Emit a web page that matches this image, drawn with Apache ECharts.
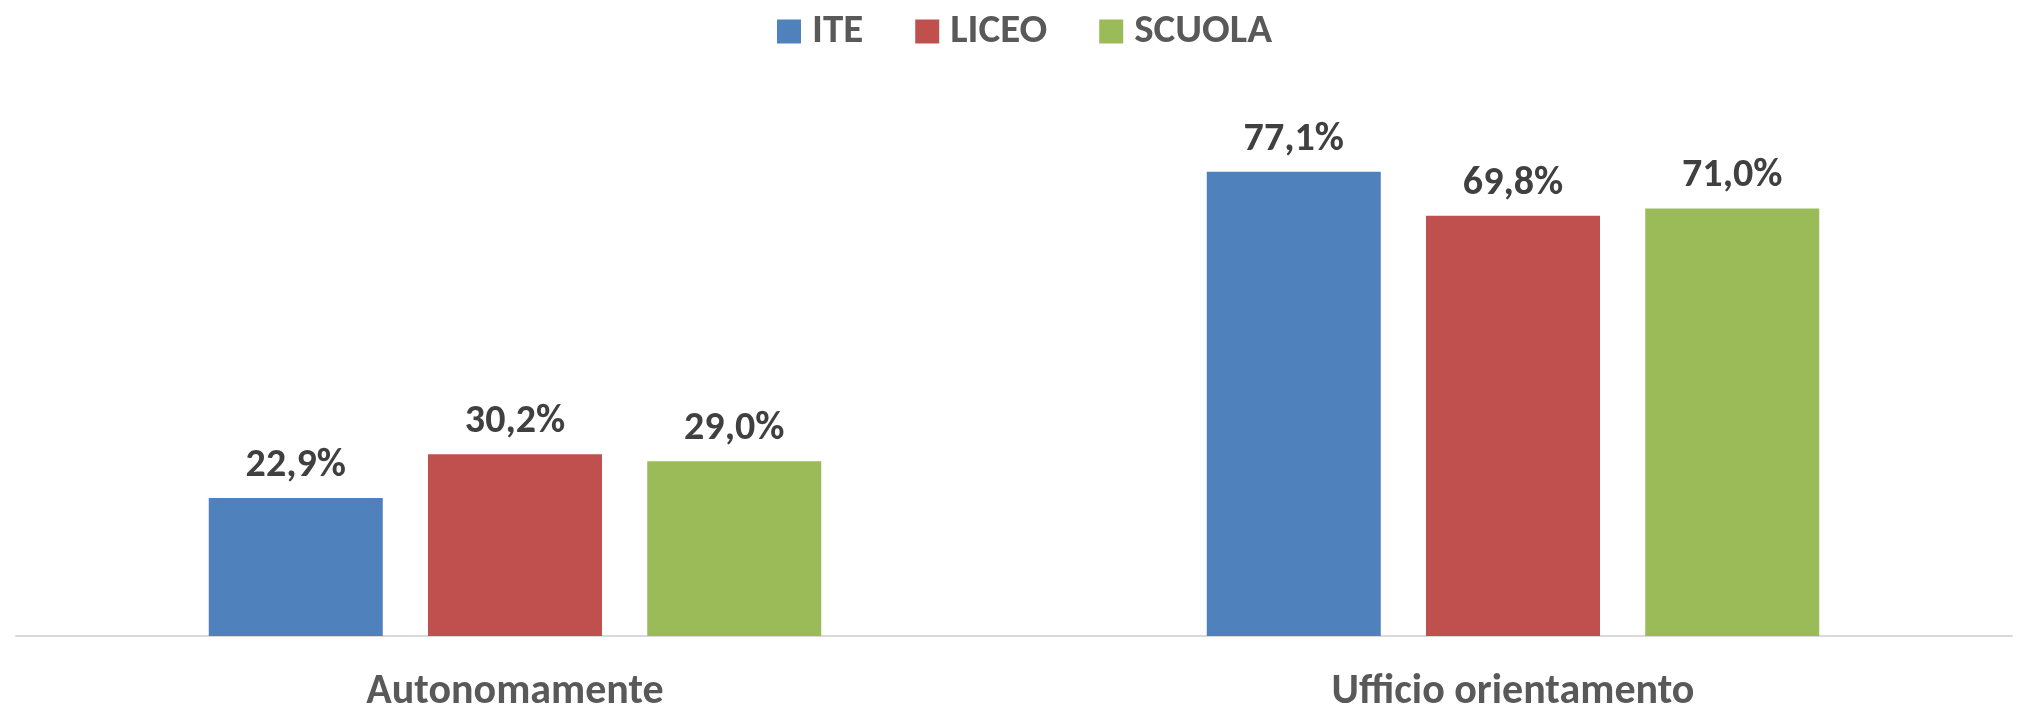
<!DOCTYPE html>
<html>
<head>
<meta charset="utf-8">
<script src="https://cdn.jsdelivr.net/npm/echarts@6/dist/echarts.min.js"></script>
<style>
html,body{margin:0;padding:0;background:#fff}
#divApp{width:2022px;height:709px}
</style>
</head>
<body>
<div id="divApp"></div>
<script>
var categories = ['Autonomamente', 'Ufficio orientamento']
var series_names = ['ITE', 'LICEO', 'SCUOLA']
var ite_v = [22.9, 77.1]
var liceo_v = [30.2, 69.8]
var scuola_v = [29.0, 71.0]
var colors = ['#4f81bd', '#c0504d', '#9bbb59']

var ff = 'Carlito, Lato, sans-serif'
var fmt = p => p.value.toFixed(1).replace('.', ',') + '%'

var mk = (name, data, i) => ({
  name: name,
  type: 'bar',
  data: data,
  barWidth: 174,
  barGap: '26%',
  itemStyle: {color: colors[i]},
  label: {
    show: true, position: 'top', distance: 12,
    formatter: fmt,
    color: '#404040', fontFamily: ff, fontWeight: 'bold', fontSize: 40
  }
})

var chart = echarts.init(document.getElementById('divApp'))
chart.setOption({
  animation: false,
  legend: {
    top: 6, left: 772,
    itemWidth: 24, itemHeight: 24, itemGap: 52,
    icon: 'rect',
    textStyle: {color: '#595959', fontFamily: ff, fontWeight: 'bold', fontSize: 41, padding: [0, 0, 0, 6]}
  },
  grid: {left: 16, right: 10, top: 94, bottom: 73, outerBoundsMode: 'none', containLabel: false},
  xAxis: {
    type: 'category',
    data: categories,
    axisLine: {lineStyle: {color: '#d9d9d9', width: 2}},
    axisTick: {show: false},
    axisLabel: {margin: 35, color: '#595959', fontFamily: ff, fontWeight: 'bold', fontSize: 42}
  },
  yAxis: {type: 'value', min: 0, max: 90, show: false},
  series: [mk(series_names[0], ite_v, 0), mk(series_names[1], liceo_v, 1), mk(series_names[2], scuola_v, 2)]
})
</script>
</body>
</html>
